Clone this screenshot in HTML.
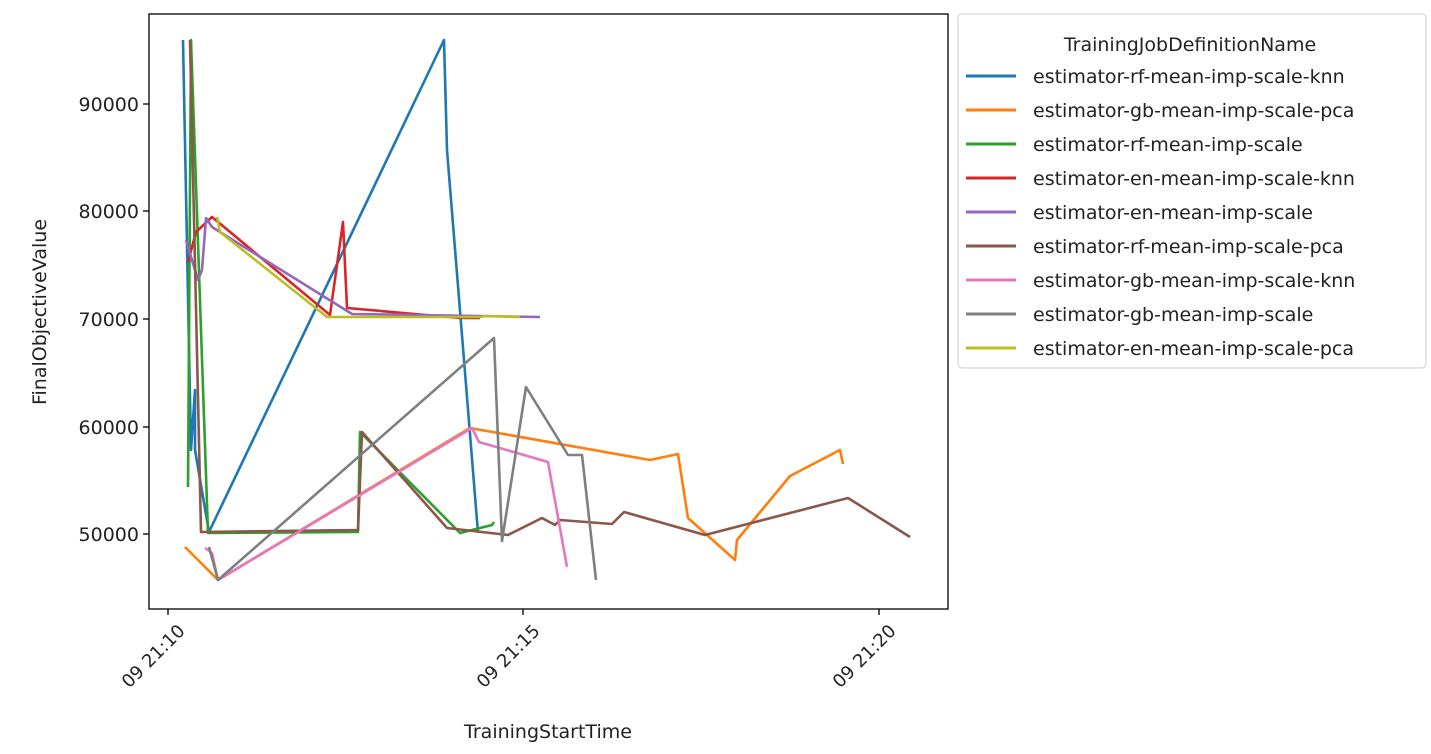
<!DOCTYPE html>
<html><head><meta charset="utf-8"><style>
body{margin:0;background:#fff;width:1431px;height:749px;overflow:hidden}
text{font-family:"DejaVu Sans","Liberation Sans",sans-serif;fill:#222}
</style></head><body>
<svg width="1431" height="749" xmlns="http://www.w3.org/2000/svg">
<g fill="none" stroke-width="2.6" stroke-linejoin="round">
<polyline stroke="#1f77b4" points="183,40 191,450 195,390 195,450 209,532 444,40 447,150 478,533"/>
<polyline stroke="#ff7f0e" points="185,547 218,580 470,428 650,460 678,454 688,518 735,560 737,540 790,476 840,450 843,464"/>
<polyline stroke="#2ca02c" points="188,487 191,40 208,533 358,532 360,432 460,533 492,525 494,522"/>
<polyline stroke="#d62728" points="188,262 196,232 212,217 330,315 343,222 347,308 460,318 480,318"/>
<polyline stroke="#9467bd" points="186,240 198,280 202,270 206,218 212,227 352,314 540,317"/>
<polyline stroke="#8c564b" points="190,40 201,532 358,530 362,432 447,528 508,535 542,518 555,525 560,520 612,524 624,512 705,535 848,498 910,537"/>
<polyline stroke="#e377c2" points="205,548 212,553 218,580 472,428 479,442 548,462 567,567"/>
<polyline stroke="#7f7f7f" points="209,547 218,580 494,338 502,541 526,387 568,455 582,455 596,580"/>
<polyline stroke="#bcbd22" points="217,217 220,232 327,317 480,317 485,316 520,317"/>
</g>
<rect x="149" y="14" width="799" height="595" fill="none" stroke="#000" stroke-width="1.3"/>
<g stroke="#000" stroke-width="1.3">
<line x1="149" y1="104" x2="143" y2="104"/><line x1="149" y1="211" x2="143" y2="211"/>
<line x1="149" y1="319" x2="143" y2="319"/><line x1="149" y1="427" x2="143" y2="427"/>
<line x1="149" y1="534" x2="143" y2="534"/>
<line x1="168" y1="609" x2="168" y2="615"/><line x1="523" y1="609" x2="523" y2="615"/><line x1="879" y1="609" x2="879" y2="615"/>
</g>
<g font-size="19" text-anchor="end">
<text x="139" y="111">90000</text><text x="139" y="218">80000</text><text x="139" y="326">70000</text>
<text x="139" y="434">60000</text><text x="139" y="541">50000</text>
</g>
<g font-size="18" text-anchor="end">
<text transform="translate(186,632) rotate(-45)">09 21:10</text>
<text transform="translate(541,632) rotate(-45)">09 21:15</text>
<text transform="translate(897,632) rotate(-45)">09 21:20</text>
</g>
<text x="548" y="738" font-size="19" text-anchor="middle">TrainingStartTime</text>
<text transform="translate(46,312) rotate(-90)" font-size="19" text-anchor="middle">FinalObjectiveValue</text>
<rect x="958" y="14" width="468" height="354" rx="4" fill="#fff" stroke="#ccc"/>
<text x="1190" y="51" font-size="19" text-anchor="middle">TrainingJobDefinitionName</text>
<g stroke-width="3">
<line x1="966" y1="76" x2="1016" y2="76" stroke="#1f77b4"/>
<line x1="966" y1="110" x2="1016" y2="110" stroke="#ff7f0e"/>
<line x1="966" y1="144" x2="1016" y2="144" stroke="#2ca02c"/>
<line x1="966" y1="178" x2="1016" y2="178" stroke="#d62728"/>
<line x1="966" y1="212" x2="1016" y2="212" stroke="#9467bd"/>
<line x1="966" y1="246" x2="1016" y2="246" stroke="#8c564b"/>
<line x1="966" y1="280" x2="1016" y2="280" stroke="#e377c2"/>
<line x1="966" y1="314" x2="1016" y2="314" stroke="#7f7f7f"/>
<line x1="966" y1="348" x2="1016" y2="348" stroke="#bcbd22"/>
</g>
<g font-size="19">
<text x="1033" y="83">estimator-rf-mean-imp-scale-knn</text>
<text x="1033" y="117">estimator-gb-mean-imp-scale-pca</text>
<text x="1033" y="151">estimator-rf-mean-imp-scale</text>
<text x="1033" y="185">estimator-en-mean-imp-scale-knn</text>
<text x="1033" y="219">estimator-en-mean-imp-scale</text>
<text x="1033" y="253">estimator-rf-mean-imp-scale-pca</text>
<text x="1033" y="287">estimator-gb-mean-imp-scale-knn</text>
<text x="1033" y="321">estimator-gb-mean-imp-scale</text>
<text x="1033" y="355">estimator-en-mean-imp-scale-pca</text>
</g>
</svg>
</body></html>
